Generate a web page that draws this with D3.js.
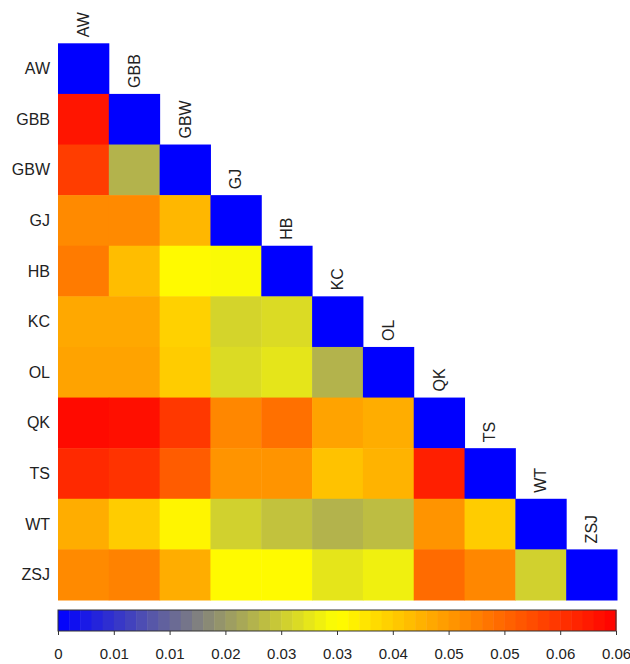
<html>
<head>
<meta charset="utf-8">
<script src="https://d3js.org/d3.v7.min.js"></script>
<style>
  body { margin: 0; background: #fff; }
  text { font-family: "Liberation Sans", Arial, sans-serif; fill: #222; }
  .cbar text { font-size: 15px; }
</style>
</head>
<body>
<svg id="chart" width="630" height="664"></svg>
<script>
// populations (row / column order)
var pops = ["AW", "GBB", "GBW", "GJ", "HB", "KC", "OL", "QK", "TS", "WT", "ZSJ"];

// lower triangle, one row per population, diagonal = 0
var rowAW  = [0];
var rowGBB = [0.0619, 0];
var rowGBW = [0.0568, 0.0226, 0];
var rowGJ  = [0.0471, 0.0471, 0.0413, 0];
var rowHB  = [0.0490, 0.0406, 0.0329, 0.0316, 0];
var rowKC  = [0.0432, 0.0432, 0.0381, 0.0268, 0.0277, 0];
var rowOL  = [0.0439, 0.0439, 0.0387, 0.0277, 0.0290, 0.0226, 0];
var rowQK  = [0.0632, 0.0626, 0.0574, 0.0474, 0.0503, 0.0439, 0.0426, 0];
var rowTS  = [0.0593, 0.0581, 0.0529, 0.0458, 0.0458, 0.0400, 0.0419, 0.0606, 0];
var rowWT  = [0.0426, 0.0387, 0.0335, 0.0264, 0.0245, 0.0226, 0.0239, 0.0458, 0.0387, 0];
var rowZSJ = [0.0471, 0.0481, 0.0426, 0.0329, 0.0329, 0.0290, 0.0303, 0.0510, 0.0474, 0.0264, 0];
var rows = [rowAW, rowGBB, rowGBW, rowGJ, rowHB, rowKC, rowOL, rowQK, rowTS, rowWT, rowZSJ];

// colour bar
var maxVal = 0.0645;
var barLabels = ["0", "0.01", "0.01", "0.02", "0.03", "0.03", "0.04", "0.05", "0.05", "0.06", "0.06"];

var svg = d3.select("#chart");

var x = d3.scaleBand().domain(pops).range([58, 617]);
var y = d3.scaleBand().domain(pops).range([43.3, 600]);
var color = d3.scaleLinear()
  .domain([0, maxVal / 2, maxVal])
  .range(["#0000ff", "#ffff00", "#ff0000"])
  .clamp(true);

var cells = [];
rows.forEach(function (r, i) {
  r.forEach(function (v, j) {
    cells.push({ row: pops[i], col: pops[j], value: v });
  });
});

svg.append("g").selectAll("rect")
  .data(cells)
  .enter().append("rect")
  .attr("x", d => x(d.col))
  .attr("y", d => y(d.row))
  .attr("width", x.bandwidth() + 0.5)
  .attr("height", y.bandwidth() + 0.5)
  .attr("fill", d => color(d.value));

// row labels
svg.append("g").selectAll("text")
  .data(pops)
  .enter().append("text")
  .attr("x", 50)
  .attr("y", d => y(d) + y.bandwidth() / 2)
  .attr("text-anchor", "end")
  .attr("dominant-baseline", "central")
  .style("font-size", "16px")
  .text(d => d);

// column labels, rotated above the diagonal
svg.append("g").selectAll("text")
  .data(pops)
  .enter().append("text")
  .attr("transform", d => "translate(" + (x(d) + x.bandwidth() / 2) + "," + (y(d) - 6) + ") rotate(-90)")
  .attr("text-anchor", "start")
  .attr("dominant-baseline", "central")
  .style("font-size", "16px")
  .text(d => d);

// colour bar
var cb = d3.scaleLinear().domain([0, maxVal]).range([58, 616]);
var nSteps = 50;
var steps = d3.range(nSteps);
var stepW = (cb.range()[1] - cb.range()[0]) / nSteps;
svg.append("g").selectAll("rect")
  .data(steps)
  .enter().append("rect")
  .attr("x", d => cb.range()[0] + d * stepW)
  .attr("y", 610)
  .attr("width", stepW + 0.5)
  .attr("height", 21)
  .attr("fill", d => color((d + 0.5) / nSteps * maxVal));

svg.append("rect")
  .attr("x", 58).attr("y", 610)
  .attr("width", 558).attr("height", 21)
  .attr("fill", "none")
  .attr("stroke", "#333")
  .attr("stroke-width", 1);

var tickVals = d3.range(barLabels.length).map(i => i * maxVal / (barLabels.length - 1));
var axis = d3.axisBottom(cb)
  .tickValues(tickVals)
  .tickSize(4)
  .tickSizeOuter(0)
  .tickPadding(13)
  .tickFormat((d, i) => barLabels[i]);

var ax = svg.append("g")
  .attr("class", "cbar")
  .attr("transform", "translate(0,631)")
  .call(axis)
  .attr("font-size", 15)
  .attr("font-family", null);
ax.select(".domain").remove();
ax.selectAll(".tick line").attr("stroke", "#333");
ax.selectAll(".tick text").attr("fill", "#222");
</script>
</body>
</html>
